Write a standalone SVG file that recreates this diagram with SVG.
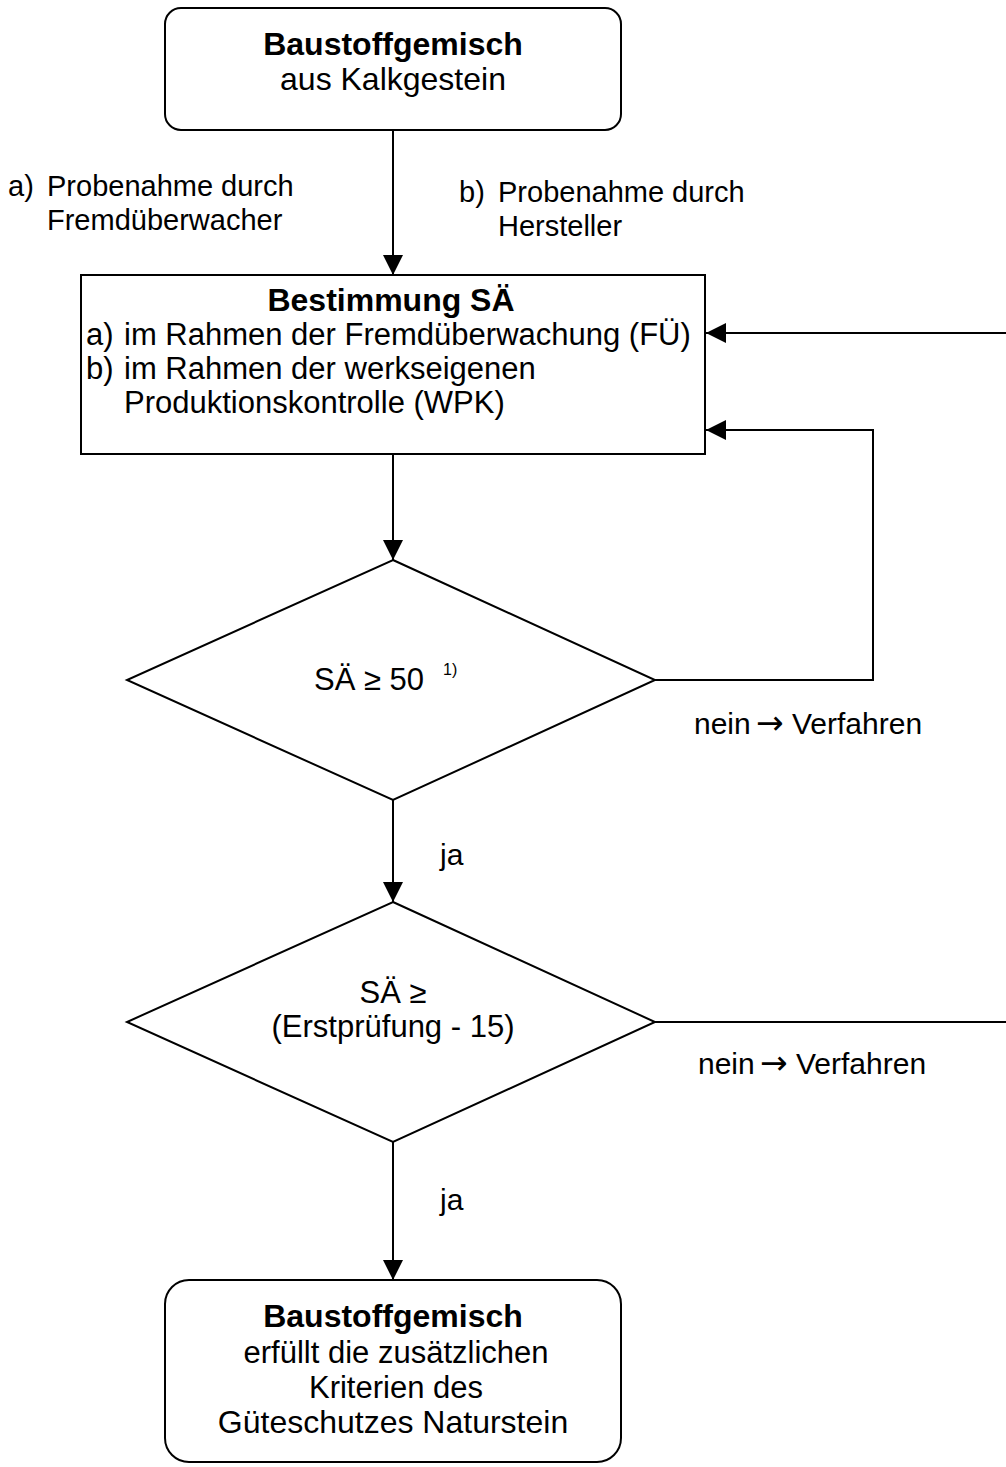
<svg xmlns="http://www.w3.org/2000/svg" width="1006" height="1467" viewBox="0 0 1006 1467">
<style>
.box{fill:#fff;stroke:#000;stroke-width:2}
.ln{fill:none;stroke:#000;stroke-width:2}
text{font-family:"Liberation Sans",Arial,sans-serif;font-size:30px;fill:#000}
.lbl{font-size:29px}
.big{font-size:32px}
.mid{font-size:31px}
.b{font-weight:bold}
.c{text-anchor:middle}
.arr{font-family:"DejaVu Sans",sans-serif;font-size:33px;font-weight:normal}
.sup{font-size:16px}
</style>
<defs>
<marker id="ah" markerWidth="20" markerHeight="20" refX="20" refY="10" orient="auto" markerUnits="userSpaceOnUse">
<path d="M0,0 L20,10 L0,20 Z" fill="#000"/>
</marker>
</defs>
<rect width="1006" height="1467" fill="#fff"/>
<g id="connectors">
<line class="ln" x1="393" y1="130" x2="393" y2="275" marker-end="url(#ah)"/>
<line class="ln" x1="393" y1="454" x2="393" y2="560" marker-end="url(#ah)"/>
<polyline class="ln" points="655,680 873,680 873,430 706,430" marker-end="url(#ah)"/>
<line class="ln" x1="1006" y1="333" x2="706" y2="333" marker-end="url(#ah)"/>
<line class="ln" x1="393" y1="800" x2="393" y2="902" marker-end="url(#ah)"/>
<line class="ln" x1="655" y1="1022" x2="1006" y2="1022"/>
<line class="ln" x1="393" y1="1142" x2="393" y2="1280" marker-end="url(#ah)"/>
<text class="lbl" x="8" y="196">a)</text>
<text class="lbl" x="47" y="196">Probenahme durch</text>
<text class="lbl" x="47" y="230">Fremdüberwacher</text>
<text class="lbl" x="459" y="202">b)</text>
<text class="lbl" x="498" y="202">Probenahme durch</text>
<text class="lbl" x="498" y="236">Hersteller</text>
<text y="734"><tspan x="694">nein</tspan><tspan class="arr" x="756">→</tspan><tspan x="792">Verfahren</tspan></text>
<text x="440" y="865">ja</text>
<text y="1074"><tspan x="698">nein</tspan><tspan class="arr" x="760">→</tspan><tspan x="796">Verfahren</tspan></text>
<text x="440" y="1210">ja</text>
</g>
<g id="start">
<rect class="box" x="165" y="8" width="456" height="122" rx="16"/>
<text class="big b c" x="393" y="55">Baustoffgemisch</text>
<text class="big c" x="393" y="90">aus Kalkgestein</text>
</g>
<g id="bestimmung">
<rect class="box" x="81" y="275" width="624" height="179"/>
<text class="big b c" x="391" y="311">Bestimmung SÄ</text>
<text class="mid" x="86" y="345">a)</text>
<text class="mid" x="124" y="345">im Rahmen der Fremdüberwachung (FÜ)</text>
<text class="mid" x="86" y="379">b)</text>
<text class="mid" x="124" y="379">im Rahmen der werkseigenen</text>
<text class="mid" x="124" y="413">Produktionskontrolle (WPK)</text>
</g>
<g id="decision1">
<polygon class="box" points="393,560 655,680 393,800 127,680"/>
<text class="mid" x="314" y="690">SÄ ≥ 50</text>
<text class="sup" x="443" y="675">1)</text>
</g>
<g id="decision2">
<polygon class="box" points="393,902 655,1022 393,1142 127,1022"/>
<text class="mid c" x="393" y="1003">SÄ ≥</text>
<text class="mid c" x="393" y="1037">(Erstprüfung - 15)</text>
</g>
<g id="end">
<rect class="box" x="165" y="1280" width="456" height="182" rx="24"/>
<text class="big b c" x="393" y="1327">Baustoffgemisch</text>
<text class="mid c" x="396" y="1363">erfüllt die zusätzlichen</text>
<text class="mid c" x="396" y="1398">Kriterien des</text>
<text class="big c" x="393" y="1433">Güteschutzes Naturstein</text>
</g>
</svg>
